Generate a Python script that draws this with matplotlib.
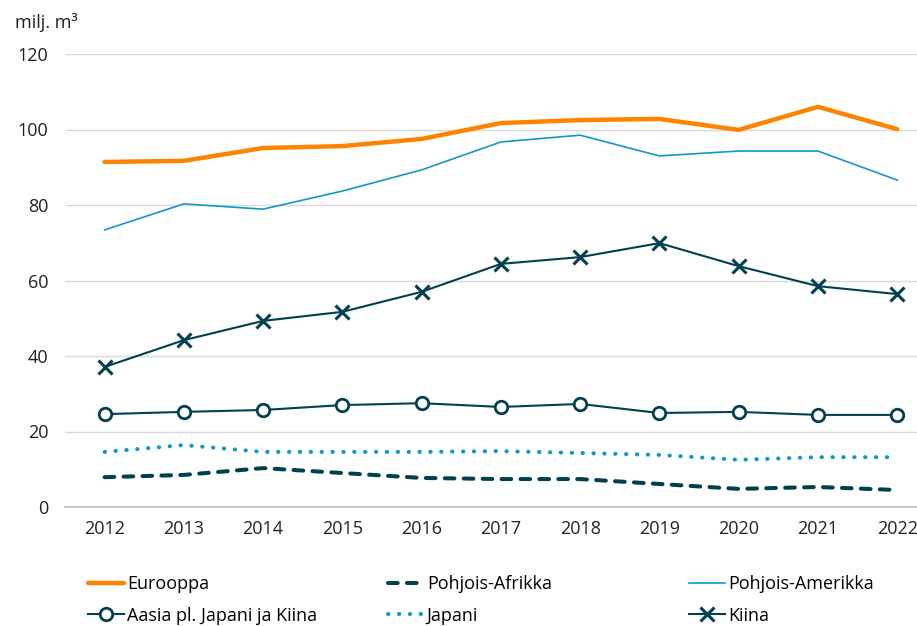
import matplotlib.pyplot as plt

plt.rcParams['font.family'] = ['Open Sans', 'DejaVu Sans']

vuodet = [2012, 2013, 2014, 2015, 2016, 2017, 2018, 2019, 2020, 2021, 2022]

eurooppa = [91.4, 91.7, 95.1, 95.6, 97.5, 101.7, 102.5, 102.8, 99.9, 106.0, 100.1]
pohjois_amerikka = [73.4, 80.3, 78.9, 83.7, 89.3, 96.7, 98.5, 93.0, 94.3, 94.3, 86.6]
kiina = [37.1, 44.2, 49.3, 51.7, 57.0, 64.4, 66.2, 69.9, 63.8, 58.5, 56.4]
aasia = [24.6, 25.2, 25.7, 27.0, 27.5, 26.5, 27.3, 24.9, 25.2, 24.4, 24.4]
japani = [14.6, 16.4, 14.6, 14.6, 14.6, 14.8, 14.3, 13.8, 12.5, 13.2, 13.2]
pohjois_afrikka = [7.9, 8.5, 10.3, 9.0, 7.7, 7.4, 7.4, 6.1, 4.8, 5.3, 4.5]

oranssi = '#FF8300'
sininen = '#1199C4'
tumma = '#00404F'

fig = plt.figure(figsize=(9.17, 6.26), dpi=100)
ax = fig.add_axes([65 / 917, 1 - 507 / 626, 852 / 917, 453 / 626])

ax.plot(vuodet, eurooppa, color=oranssi, lw=3.2, solid_capstyle='round', label='Eurooppa')
ax.plot(vuodet, pohjois_amerikka, color=sininen, lw=1.2, label='Pohjois-Amerikka')
ax.plot(vuodet, kiina, color=tumma, lw=1.5, marker='x', ms=10, mew=2.2, label='Kiina')
ax.plot(vuodet, aasia, color=tumma, lw=1.5, marker='o', ms=9, mew=2, mfc='white',
        label='Aasia pl. Japani ja Kiina')
ax.plot(vuodet, japani, color=sininen, lw=2.9, dashes=(0.1, 2.6), dash_capstyle='round',
        label='Japani')
ax.plot(vuodet, pohjois_afrikka, color=tumma, lw=2.9, dashes=(2.4, 2.3), dash_capstyle='round',
        label='Pohjois-Afrikka')

ax.set_xlim(2011.5, 2022.25)
ax.set_ylim(0, 120)
ax.set_xticks(vuodet)
ax.set_yticks(range(0, 121, 20))
ax.tick_params(length=0, labelsize=13, colors='#222222')
ax.tick_params(axis='y', pad=12)
ax.tick_params(axis='x', pad=9)
ax.grid(axis='y', color='#D9D9D9', lw=1)
ax.set_axisbelow(True)
for s in ['left', 'right', 'top']:
    ax.spines[s].set_visible(False)
ax.spines['bottom'].set_color('#BFBFBF')
ax.spines['bottom'].set_linewidth(1.2)

fig.text(15 / 917, 1 - 23 / 626, 'milj. m³', fontsize=13, va='center', color='#222222')

# legenda kolmessa sarakkeessa
h, l = ax.get_legend_handles_labels()
kahvat = dict(zip(l, h))
sarakkeet = [['Eurooppa', 'Aasia pl. Japani ja Kiina'],
             ['Pohjois-Afrikka', 'Japani'],
             ['Pohjois-Amerikka', 'Kiina']]
x_alut = [88, 388, 689]
for nimet, x0 in zip(sarakkeet, x_alut):
    fig.legend([kahvat[n] for n in nimet], nimet, loc='upper left',
               bbox_to_anchor=(x0 / 917, 1 - 575 / 626), frameon=False,
               fontsize=13, handlelength=2.0, handletextpad=0.15,
               labelspacing=0.75, borderaxespad=0, borderpad=0)

fig.savefig('out.png', dpi=100)
